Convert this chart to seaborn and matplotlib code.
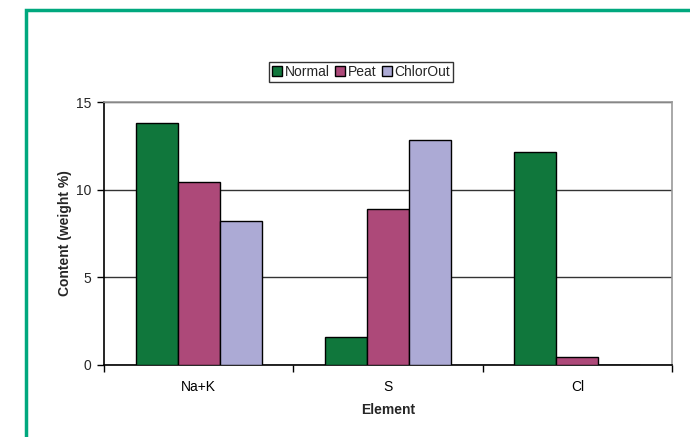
import matplotlib
matplotlib.use("Agg")
import matplotlib.pyplot as plt
from matplotlib.patches import Rectangle
from matplotlib.ticker import FixedLocator
import seaborn as sns
import pandas as pd

# Element content by fuel type
elements = ["Na+K", "S", "Cl"]
normal = [13.78, 1.58, 12.15]
peat = [10.44, 8.91, 0.46]
chlorout = [8.23, 12.85, 0.0]
series = ["Normal", "Peat", "ChlorOut"]
colors = ["#10773C", "#AD4979", "#ACAAD5"]

df = pd.DataFrame({
    "Element": elements * 3,
    "Content": normal + peat + chlorout,
    "Fuel": [s for s in series for _ in elements],
})

sns.set_style("white")
plt.rcParams["font.family"] = ["Liberation Sans", "DejaVu Sans"]

fig = plt.figure(figsize=(6.9, 4.37), dpi=100)
ax = fig.add_axes([104 / 690, 1 - 365 / 437, 568 / 690, 263 / 437])

sns.barplot(data=df, x="Element", y="Content", hue="Fuel", order=elements,
            hue_order=series, palette=colors, width=0.667, gap=0,
            edgecolor="black", linewidth=1.0, saturation=1, ax=ax, zorder=3)

ax.set_xlim(-0.5, 2.5)
ax.set_ylim(0, 15)
ax.set_yticks([0, 5, 10, 15])
ax.set_yticklabels(["0", "5", "10", "15"])
ax.yaxis.grid(True, color="#333333", linewidth=1.0, zorder=0)
ax.set_axisbelow(True)

ax.xaxis.set_minor_locator(FixedLocator([-0.5, 0.5, 1.5, 2.5]))
ax.tick_params(axis="x", which="major", length=0, labelsize=10, pad=11, colors="black")
ax.tick_params(axis="x", which="minor", length=5, width=1, color="black", direction="out")
ax.tick_params(axis="y", length=5, width=1, color="black", direction="out", labelsize=10, pad=4)
ax.tick_params(bottom=True, left=True, which="both")

for side in ("left", "bottom"):
    ax.spines[side].set_color("black")
    ax.spines[side].set_linewidth(1.2)
for side in ("top", "right"):
    ax.spines[side].set_visible(True)
    ax.spines[side].set_color("#999999")
    ax.spines[side].set_linewidth(1.2)

ax.set_xlabel("Element", fontsize=10, fontweight="bold", labelpad=6)
ax.set_ylabel("Content (weight %)", fontsize=10, fontweight="bold", labelpad=3)

handles, labels = ax.get_legend_handles_labels()
ax.legend(handles, labels, loc="center", bbox_to_anchor=(361 / 690, 1 - 72 / 437),
          bbox_transform=fig.transFigure, ncol=3, frameon=True, fontsize=10,
          handlelength=0.75, handleheight=0.75, handletextpad=0.15, columnspacing=0.4,
          borderpad=0.25, borderaxespad=0, fancybox=False, edgecolor="black")
leg = ax.get_legend()
leg.get_frame().set_linewidth(1.0)

# Teal frame around the chart
fig.add_artist(Rectangle((26 / 690, -0.05), 1.0, 1 - 10 / 437 + 0.05,
                         transform=fig.transFigure, fill=False,
                         edgecolor="#00A87E", linewidth=2.5))

fig.savefig("out.png", dpi=100)
